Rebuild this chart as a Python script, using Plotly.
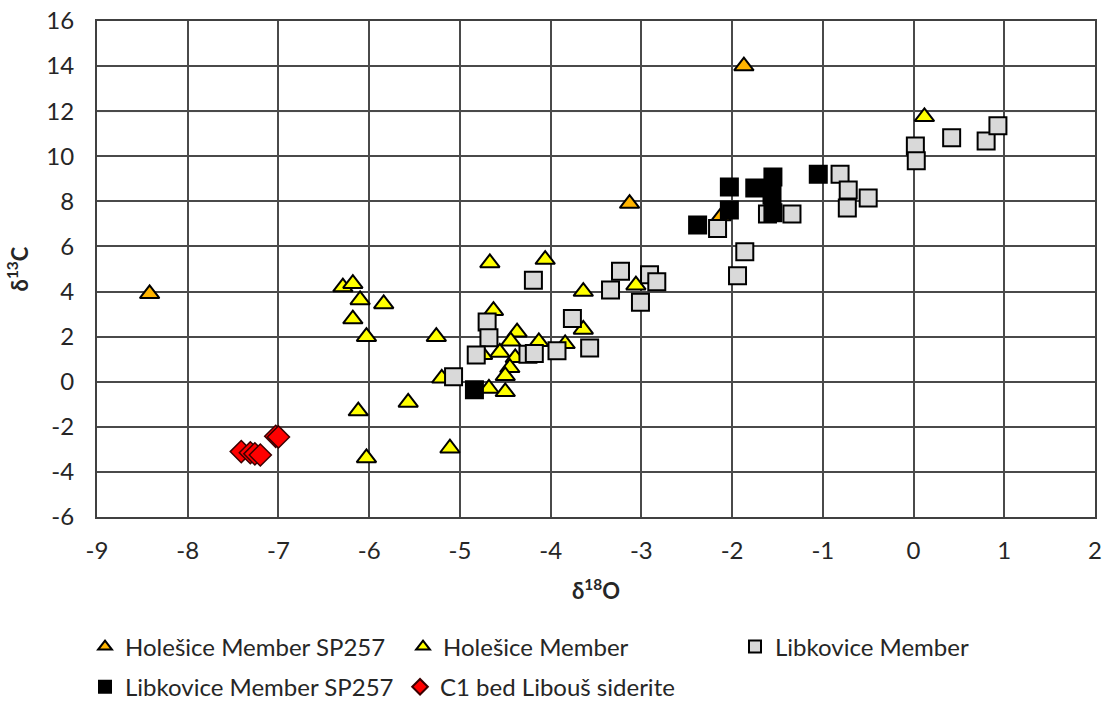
import plotly.graph_objects as go

# δ18O / δ13C values per unit
hol_sp257_x = [-8.42, -1.87, -3.13, -2.12]
hol_sp257_y = [3.90, 14.00, 7.90, 7.35]

hol_x = [-6.29, -6.18, -6.10, -5.84, -6.18, -6.03, -5.26, -5.20, -6.12, -5.57,
         -6.03, -5.11, -4.67, -4.06, -3.64, -4.63, -3.64, -4.37, -4.44, -4.13,
         -3.84, -4.56, -4.39, -4.45, -4.50, -4.68, -4.50, -3.06, 0.12, -4.75]
hol_y = [4.20, 4.35, 3.63, 3.45, 2.78, 2.00, 2.00, 0.15, -1.30, -0.92,
         -3.38, -2.95, 5.27, 5.42, 4.00, 3.15, 2.32, 2.20, 1.80, 1.77,
         1.68, 1.30, 1.06, 0.62, 0.26, -0.30, -0.45, 4.28, 11.75, 1.20]

lib_x = [-4.70, -4.68, -4.82, -5.07, -4.25, -4.18, -3.93, -3.57, -3.76, -4.19,
         -3.34, -3.23, -2.91, -2.83, -3.01, -2.16, -1.94, -1.86, -1.61, -1.34,
         -0.81, -0.72, -0.73, -0.50, 0.02, 0.03, 0.42, 0.80, 0.93]
lib_y = [2.65, 1.95, 1.19, 0.22, 1.22, 1.25, 1.37, 1.50, 2.80, 4.50,
         4.07, 4.90, 4.74, 4.43, 3.52, 6.80, 4.70, 5.76, 7.44, 7.44,
         9.20, 8.50, 7.71, 8.15, 10.46, 9.80, 10.82, 10.68, 11.35]

lib_sp257_x = [-4.84, -2.38, -2.03, -2.03, -1.75, -1.55, -1.56, -1.55, -1.05]
lib_sp257_y = [-0.36, 6.95, 8.64, 7.62, 8.59, 9.08, 8.28, 7.49, 9.20]

sid_x = [-7.41, -7.31, -7.26, -7.20, -7.03, -7.00]
sid_y = [-3.10, -3.15, -3.20, -3.25, -2.42, -2.45]

x_ticks = list(range(-9, 3))
y_ticks = list(range(-6, 17, 2))

FONT = "Lato, Roboto, sans-serif"
TXT = "#262626"

fig = go.Figure()

fig.add_trace(go.Scatter(
    x=hol_sp257_x, y=hol_sp257_y, mode="markers", name="Holešice Member SP257",
    marker=dict(symbol="triangle-up", size=17, color="#FFB400",
                line=dict(color="#000000", width=2)),
    legend="legend", legendwidth=273))
fig.add_trace(go.Scatter(
    x=hol_x, y=hol_y, mode="markers", name="Holešice Member",
    marker=dict(symbol="triangle-up", size=17, color="#FFFF00",
                line=dict(color="#000000", width=2)),
    legend="legend", legendwidth=287))
fig.add_trace(go.Scatter(
    x=lib_x, y=lib_y, mode="markers", name="Libkovice Member",
    marker=dict(symbol="square", size=17, color="#D9D9D9",
                line=dict(color="#000000", width=2)),
    legend="legend"))
fig.add_trace(go.Scatter(
    x=lib_sp257_x, y=lib_sp257_y, mode="markers", name="Libkovice Member SP257",
    marker=dict(symbol="square", size=17, color="#000000",
                line=dict(color="#000000", width=2)),
    legend="legend2", legendwidth=270))
fig.add_trace(go.Scatter(
    x=sid_x, y=sid_y, mode="markers", name="C1 bed Libouš siderite",
    marker=dict(symbol="diamond", size=17, color="#FF0000",
                line=dict(color="#3a0000", width=1.5)),
    legend="legend2"))

legend_common = dict(
    orientation="h", xanchor="left", yanchor="middle",
    font=dict(family=FONT, size=24, color=TXT),
    bgcolor="rgba(0,0,0,0)", itemsizing="constant", itemclick=False,
)

fig.update_layout(
    width=1103, height=705,
    margin=dict(l=97, r=8, t=21, b=188, autoexpand=False),
    paper_bgcolor="white", plot_bgcolor="white",
    showlegend=True,
    legend=dict(x=-0.012, y=-0.262, **legend_common),
    legend2=dict(x=-0.012, y=-0.343, **legend_common),
    xaxis=dict(
        range=[-9, 2], tickvals=x_ticks, ticktext=[str(v) for v in x_ticks],
        showgrid=True, gridcolor="#4a4a4a", gridwidth=1.5, zeroline=False,
        showline=True, linecolor="#404040", linewidth=2, mirror=True,
        ticks="", ticklabelstandoff=11,
        tickfont=dict(family=FONT, size=24, color=TXT),
        title=dict(text="<b>δ<sup>18</sup>O</b>", standoff=21,
                   font=dict(family=FONT, size=22, color=TXT)),
    ),
    yaxis=dict(
        range=[-6, 16], tickvals=y_ticks, ticktext=[str(v) for v in y_ticks],
        showgrid=True, gridcolor="#4a4a4a", gridwidth=1.5, zeroline=False,
        showline=True, linecolor="#404040", linewidth=2, mirror=True,
        ticks="", ticklabelstandoff=16,
        tickfont=dict(family=FONT, size=24, color=TXT),
        title=dict(text="<b>δ<sup>13</sup>C</b>", standoff=12,
                   font=dict(family=FONT, size=22, color=TXT)),
    ),
    shapes=[dict(type="line", xref="paper", x0=0, x1=1, yref="y", y0=12, y1=12,
                 line=dict(color="#d9d9d9", width=2), layer="below")],
)

fig.write_html("out.html")
